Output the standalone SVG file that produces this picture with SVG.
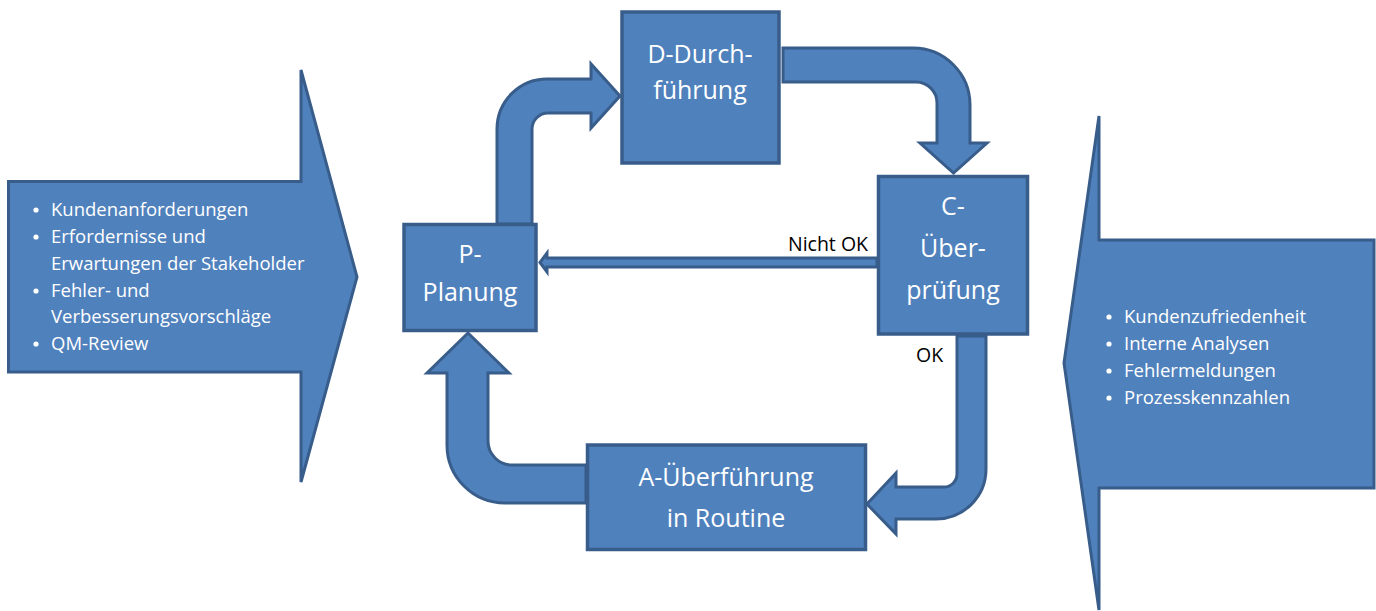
<svg xmlns="http://www.w3.org/2000/svg" width="1376" height="611" viewBox="0 0 1376 611">
<style>
.shape{fill:#4F81BD;stroke:#385D8A;stroke-width:3;stroke-linejoin:miter}
.box{fill:#4F81BD;stroke:#385D8A;stroke-width:3.5}
.lt{font-family:"Open Sans","Liberation Sans",sans-serif;font-size:18.5px;fill:#FFFFFF}
.bt{font-family:"Open Sans","Liberation Sans",sans-serif;font-size:25px;fill:#FFFFFF;text-anchor:middle}
.lbl{font-family:"Open Sans","Liberation Sans",sans-serif;font-size:19.5px;fill:#000000}
.dot{fill:#FFFFFF}
</style>
<rect width="1376" height="611" fill="#FFFFFF"/>
<g id="input-left">
<polygon class="shape" points="8.5,181.5 301,181.5 301,70 357,277 301,482 301,372 8.5,372"/>
<circle class="dot" cx="36" cy="210" r="2.6"/>
<text class="lt" x="51" y="216">Kundenanforderungen</text>
<circle class="dot" cx="36" cy="237" r="2.6"/>
<text class="lt" x="51" y="243">Erfordernisse und</text>
<text class="lt" x="51" y="270">Erwartungen der Stakeholder</text>
<circle class="dot" cx="36" cy="291" r="2.6"/>
<text class="lt" x="51" y="297">Fehler- und</text>
<text class="lt" x="51" y="323">Verbesserungsvorschläge</text>
<circle class="dot" cx="36" cy="344" r="2.6"/>
<text class="lt" x="51" y="350">QM-Review</text>
</g>
<g id="input-right">
<polygon class="shape" points="1374,240 1099,240 1099,116 1064,363 1099,610 1099,488 1374,488"/>
<circle class="dot" cx="1109" cy="317" r="2.6"/>
<text class="lt" x="1124" y="323">Kundenzufriedenheit</text>
<circle class="dot" cx="1109" cy="344" r="2.6"/>
<text class="lt" x="1124" y="350">Interne Analysen</text>
<circle class="dot" cx="1109" cy="371" r="2.6"/>
<text class="lt" x="1124" y="377">Fehlermeldungen</text>
<circle class="dot" cx="1109" cy="398" r="2.6"/>
<text class="lt" x="1124" y="404">Prozesskennzahlen</text>
</g>
<g id="connectors">
<path class="shape" d="M497,224 V129 A50,50 0 0 1 547,79 H591 V64 L620,96 L591,128 V113 H548 A16,16 0 0 0 532,129 V224 Z"/>
<path class="shape" d="M783,48 H913 A57,57 0 0 1 970,105 V143 H987 L953.5,173 L920,143 H937 V103 A21,21 0 0 0 916,82 H783 Z"/>
<path class="shape" d="M957,336 V474 A13,13 0 0 1 944,487 H896 V473 L867,504 L896,534 V519 H936 A50,50 0 0 0 986,469 V336 Z"/>
<path class="shape" d="M586,465 H512 A24,24 0 0 1 488,441 V373 H509 L468,333 L427,373 H447 V445 A58,58 0 0 0 505,503 H586 Z"/>
<path class="shape" d="M540,262.5 L547,253 V258 H877 V267 H547 V272 Z"/>
<text class="lbl" x="868" y="251" text-anchor="end">Nicht OK</text>
<text class="lbl" x="916" y="362">OK</text>
</g>
<g id="node-d">
<rect class="box" x="622" y="12" width="157" height="151"/>
<text class="bt" x="700" y="63">D-Durch-</text>
<text class="bt" x="700" y="99">führung</text>
</g>
<g id="node-c">
<rect class="box" x="878.5" y="176.5" width="149" height="157.5"/>
<text class="bt" x="953" y="215">C-</text>
<text class="bt" x="953" y="257">Über-</text>
<text class="bt" x="953" y="299">prüfung</text>
</g>
<g id="node-p">
<rect class="box" x="404" y="224.5" width="132" height="106"/>
<text class="bt" x="470" y="263">P-</text>
<text class="bt" x="470" y="301">Planung</text>
</g>
<g id="node-a">
<rect class="box" x="587.5" y="445" width="278" height="104.5"/>
<text class="bt" x="726" y="486">A-Überführung</text>
<text class="bt" x="726" y="527">in Routine</text>
</g>
</svg>
